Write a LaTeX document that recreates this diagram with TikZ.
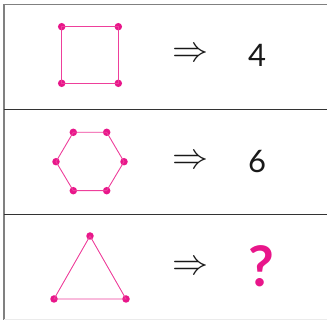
\documentclass[tikz,border=0pt]{standalone}
\usepackage{fontspec}
\setmainfont{Lato}
\begin{document}
\begin{tikzpicture}[x=1pt,y=-1pt,
  frameline/.style={draw=black!50,line width=1.4pt},
  divline/.style={draw=black!80,line width=1.2pt},
  edge/.style={draw=pinkline,line width=0.9pt},
  vtx/.style={circle,fill=magentadot,inner sep=0pt,minimum size=7.5pt},
  arrowtxt/.style={scale=3.6,text=black!90},
  numtxt/.style={font=\fontsize{31}{31}\selectfont,text=black!90},
  qtxt/.style={font=\fontsize{56}{56}\selectfont\bfseries,text=magentadot}]
\definecolor{pinkline}{HTML}{EE3F9B}
\definecolor{magentadot}{HTML}{E8168A}
\useasboundingbox (0,0) rectangle (327,320);
% frame
\draw[frameline] (4,320) -- (4,4.5) -- (327,4.5);
\draw[divline] (4,109.5) -- (327,109.5);
\draw[divline] (4,214.5) -- (327,214.5);
\draw[draw=black!8,line width=0.8pt] (4,319.5) -- (327,319.5);
% square
\node[vtx] (s1) at (61.7,26.7) {};
\node[vtx] (s2) at (118.3,26.7) {};
\node[vtx] (s3) at (118.3,83.3) {};
\node[vtx] (s4) at (61.7,83.3) {};
\draw[edge] (s1.center) -- (s2.center) -- (s3.center) -- (s4.center) -- cycle;
\node[arrowtxt] (a1) at (190,55) {$\Rightarrow$};
\node[numtxt] (n1) at (257,55) {4};
% hexagon
\node[vtx] (h1) at (73.3,132.3) {};
\node[vtx] (h2) at (106.7,132.3) {};
\node[vtx] (h3) at (124,161.7) {};
\node[vtx] (h4) at (106.7,190.7) {};
\node[vtx] (h5) at (73.3,190.7) {};
\node[vtx] (h6) at (56,161.7) {};
\draw[edge] (h1.center) -- (h2.center) -- (h3.center) -- (h4.center) -- (h5.center) -- (h6.center) -- cycle;
\node[arrowtxt] (a2) at (190,161.7) {$\Rightarrow$};
\node[numtxt] (n2) at (257,161.7) {6};
% triangle
\node[vtx] (t1) at (90,236) {};
\node[vtx] (t2) at (126,299) {};
\node[vtx] (t3) at (54,299) {};
\draw[edge] (t1.center) -- (t2.center) -- (t3.center) -- cycle;
\node[arrowtxt] (a3) at (190,267.7) {$\Rightarrow$};
\node[qtxt] (q) at (261.7,266.7) {?};
\end{tikzpicture}
\end{document}
